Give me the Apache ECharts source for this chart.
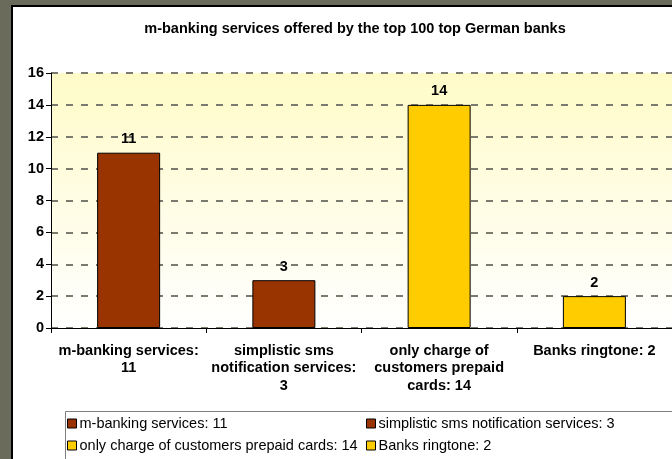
<!DOCTYPE html>
<html>
<head>
<meta charset="utf-8">
<script src="https://cdn.jsdelivr.net/npm/echarts@6/dist/echarts.min.js"></script>
<style>
html,body{margin:0;padding:0;background:#6b6b5b;}
#c{width:672px;height:459px;}
</style>
</head>
<body>
<div id="c"></div>
<script>
var categories = ["m-banking services: 11", "simplistic sms notification services: 3", "only charge of customers prepaid cards: 14", "Banks ringtone: 2"];
var categoryLabels = ["m-banking services:\n11", "simplistic sms\nnotification services:\n3", "only charge of\ncustomers prepaid\ncards: 14", "Banks ringtone: 2"];
var values = [11, 3, 14, 2];
var colors = ["#993300", "#993300", "#ffcc00", "#ffcc00"];
var yTicks = [0, 2, 4, 6, 8, 10, 12, 14, 16];

var FONT = "'Liberation Sans', Arial, sans-serif";
var FS = 14.5;
var chart = echarts.init(document.getElementById('c'), null, {renderer: 'canvas'});

var series = categories.map(function (name, i) {
  var d = values.map(function (v, j) { return j === i ? v : '-'; });
  return {
    name: name,
    type: 'bar',
    stack: 'all',
    barWidth: 63,
    data: d,
    itemStyle: {color: colors[i], borderColor: '#000', borderWidth: 1},
    label: {show: true, position: 'top', distance: 6, color: '#000', fontWeight: 'bold', fontSize: FS, fontFamily: FONT}
  };
});

chart.setOption({
  backgroundColor: '#6b6b5b',
  animation: false,
  graphic: [
    {type: 'rect', z: -10, shape: {x: 12, y: 6, width: 720, height: 520}, style: {fill: '#fff', stroke: '#000', lineWidth: 2}},
    {type: 'rect', z: -5, shape: {x: 65.5, y: 411.5, width: 640, height: 80}, style: {fill: '#fff', stroke: '#808080', lineWidth: 1}}
  ],
  title: {
    text: 'm-banking services offered by the top 100 top German banks',
    left: 350, top: 16, textAlign: 'center',
    textStyle: {fontFamily: FONT, fontWeight: 'bold', fontSize: FS, color: '#000'}
  },
  grid: {
    left: 51, top: 73, width: 624, height: 255,
    show: true, borderWidth: 0,
    backgroundColor: new echarts.graphic.LinearGradient(0, 0, 0, 1, [
      {offset: 0, color: '#fffbc8'},
      {offset: 1, color: '#ffffff'}
    ])
  },
  legend: [
    {
      data: [categories[0], categories[2]],
      orient: 'vertical', left: 67, top: 416, padding: 0, itemGap: 7,
      itemWidth: 9, itemHeight: 9, icon: 'rect', itemStyle: {borderColor: '#000', borderWidth: 1},
      textStyle: {fontFamily: FONT, fontSize: FS, color: '#000', padding: [0, 0, 0, -2]},
      selectedMode: false
    },
    {
      data: [categories[1], categories[3]],
      orient: 'vertical', left: 366, top: 416, padding: 0, itemGap: 7,
      itemWidth: 9, itemHeight: 9, icon: 'rect', itemStyle: {borderColor: '#000', borderWidth: 1},
      textStyle: {fontFamily: FONT, fontSize: FS, color: '#000', padding: [0, 0, 0, -2]},
      selectedMode: false
    }
  ],
  xAxis: {
    type: 'category',
    data: categories,
    axisLine: {lineStyle: {color: '#000', width: 1}},
    axisTick: {show: true, length: 5, lineStyle: {color: '#000'}},
    axisLabel: {
      margin: 14, lineHeight: 17.5, interval: 0,
      fontFamily: FONT, fontWeight: 'bold', fontSize: FS, color: '#000',
      formatter: function (v, i) { return categoryLabels[i]; }
    }
  },
  yAxis: {
    type: 'value', min: yTicks[0], max: yTicks[yTicks.length - 1], interval: yTicks[1] - yTicks[0],
    axisLine: {show: true, lineStyle: {color: '#000', width: 1}},
    axisTick: {show: true, length: 5, lineStyle: {color: '#000'}},
    axisLabel: {margin: 7, fontFamily: FONT, fontWeight: 'bold', fontSize: FS, color: '#000'},
    splitLine: {show: true, lineStyle: {color: '#7a7a6e', width: 2, type: [7, 8]}}
  },
  series: series
});
</script>
</body>
</html>
